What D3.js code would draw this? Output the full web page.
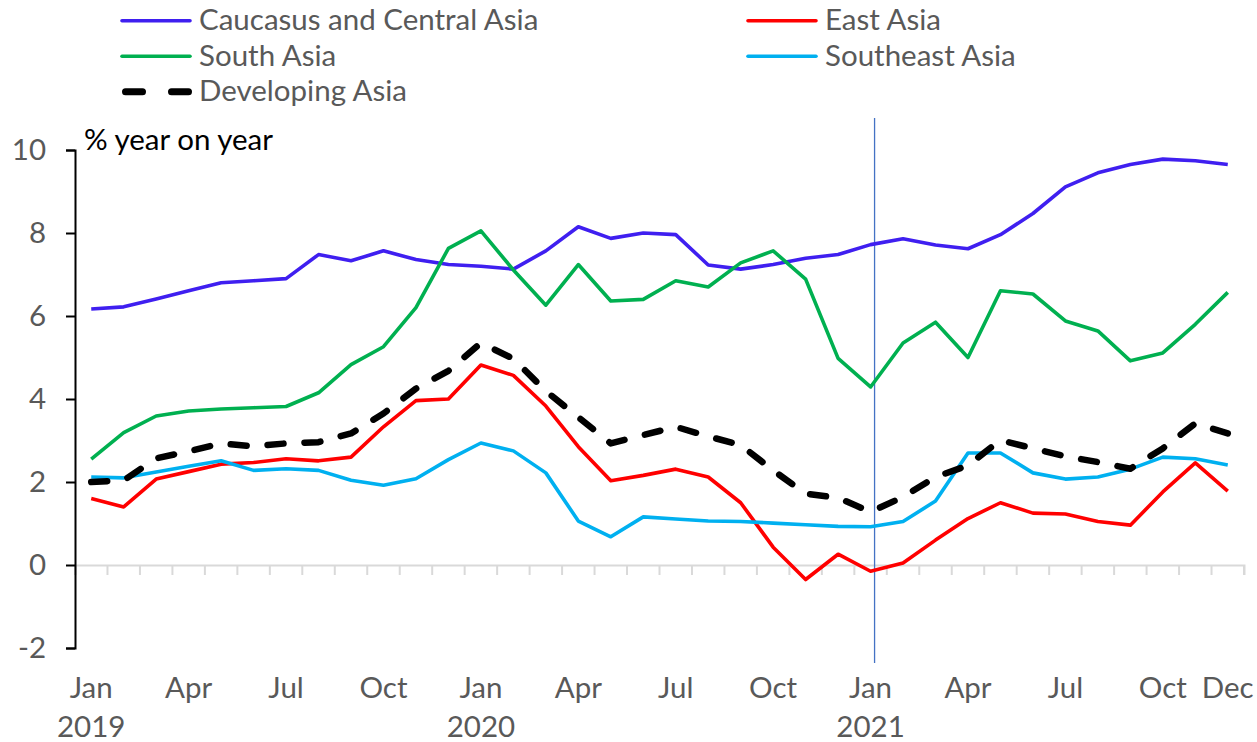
<!DOCTYPE html>
<html>
<head>
<meta charset="utf-8">
<script src="https://cdn.jsdelivr.net/npm/d3@7"></script>
<style>
	body { margin: 0; background: white; }
	svg { display: block; font-family: Lato, 'Open Sans', sans-serif; }
</style>
</head>
<body>
<div id="chart"></div>
<script>

// months shown on the x axis, Jan 2019 .. Dec 2021
var months = [];
['2019', '2020', '2021'].forEach(function(y) {
	['Jan', 'Feb', 'Mar', 'Apr', 'May', 'Jun', 'Jul', 'Aug', 'Sep', 'Oct', 'Nov', 'Dec'].forEach(function(m) {
		months.push(m + ' ' + y);
	});
});

var tickMonths = ['Jan 2019', 'Apr 2019', 'Jul 2019', 'Oct 2019', 'Jan 2020', 'Apr 2020', 'Jul 2020', 'Oct 2020',
	'Jan 2021', 'Apr 2021', 'Jul 2021', 'Oct 2021', 'Dec 2021'];
var yearLabels = ['Jan 2019', 'Jan 2020', 'Jan 2021'];
var yTicks = [-2, 0, 2, 4, 6, 8, 10];

var caucasus = [6.17, 6.22, 6.41, 6.61, 6.80, 6.85, 6.90, 7.48, 7.33, 7.57, 7.36, 7.24,
	7.20, 7.13, 7.57, 8.15, 7.87, 8.00, 7.96, 7.23, 7.13, 7.24, 7.39, 7.48,
	7.72, 7.86, 7.71, 7.62, 7.96, 8.47, 9.11, 9.45, 9.65, 9.78, 9.74, 9.65];

var eastAsia = [1.60, 1.40, 2.07, 2.25, 2.43, 2.47, 2.56, 2.51, 2.60, 3.33, 3.96, 4.00,
	4.82, 4.57, 3.83, 2.85, 2.03, 2.16, 2.31, 2.12, 1.50, 0.43, -0.35, 0.26,
	-0.15, 0.05, 0.60, 1.12, 1.50, 1.25, 1.23, 1.05, 0.96, 1.76, 2.46, 1.78];

var southAsia = [2.55, 3.19, 3.59, 3.71, 3.76, 3.79, 3.82, 4.15, 4.83, 5.26, 6.20, 7.63,
	8.05, 7.11, 6.26, 7.24, 6.36, 6.40, 6.85, 6.70, 7.28, 7.57, 6.89, 4.98,
	4.29, 5.35, 5.85, 5.00, 6.61, 6.53, 5.88, 5.64, 4.92, 5.11, 5.80, 6.57];

var southeastAsia = [2.12, 2.10, 2.24, 2.38, 2.51, 2.28, 2.32, 2.28, 2.04, 1.92, 2.08, 2.54,
	2.94, 2.75, 2.22, 1.06, 0.68, 1.16, 1.11, 1.06, 1.05, 1.01, 0.97, 0.93,
	0.92, 1.05, 1.54, 2.70, 2.70, 2.22, 2.07, 2.12, 2.31, 2.60, 2.56, 2.41];

var developingAsia = [2.00, 2.04, 2.57, 2.74, 2.93, 2.86, 2.93, 2.96, 3.17, 3.65, 4.25, 4.68,
	5.35, 4.97, 4.19, 3.56, 2.93, 3.13, 3.33, 3.10, 2.89, 2.28, 1.72, 1.62,
	1.28, 1.64, 2.12, 2.40, 3.01, 2.81, 2.62, 2.48, 2.32, 2.81, 3.41, 3.17];

var seriesNames = ['Caucasus and Central Asia', 'East Asia', 'South Asia', 'Southeast Asia', 'Developing Asia'];
var seriesValues = [caucasus, eastAsia, southAsia, southeastAsia, developingAsia];
var seriesColors = ['#3f1ff0', '#ff0000', '#00b050', '#00b0f0', '#000000'];

var width = 1257, height = 742;
var textGrey = '#595959';
var fontSize = '29.5px';

var svg = d3.select('#chart').append('svg')
	.attr('width', width)
	.attr('height', height);

var x = d3.scaleBand()
	.domain(months)
	.range([75, 1244]);

var y = d3.scaleLinear()
	.domain([-2, 10])
	.range([648, 150]);

var cx = function(m) { return x(m) + x.bandwidth() / 2; };

// zero line with the category ticks hanging from it
svg.append('g')
	.attr('transform', 'translate(0,' + y(0) + ')')
	.call(d3.axisBottom(x).tickSize(10).tickFormat(''))
	.call(function(g) {
		g.select('.domain').attr('stroke', '#d9d9d9').attr('stroke-width', 2);
		g.selectAll('.tick line').attr('stroke', '#d9d9d9').attr('stroke-width', 2)
			.attr('transform', 'translate(' + (-x.bandwidth() / 2) + ',0)');
	});

// last boundary tick on the right edge
svg.append('line')
	.attr('x1', x.range()[1]).attr('x2', x.range()[1])
	.attr('y1', y(0)).attr('y2', y(0) + 10)
	.attr('stroke', '#d9d9d9').attr('stroke-width', 2);

// y axis
svg.append('g')
	.attr('transform', 'translate(' + x.range()[0] + ',0)')
	.call(d3.axisLeft(y).tickValues(yTicks).tickSize(9).tickPadding(20)
		.tickFormat(function(d) { return String(d); }))
	.call(function(g) {
		g.select('.domain').attr('stroke', 'black').attr('stroke-width', 2);
		g.selectAll('.tick line').attr('stroke', 'black').attr('stroke-width', 2);
		g.selectAll('.tick text')
			.attr('fill', textGrey)
			.attr('font-size', fontSize)
			.attr('font-family', 'Lato, sans-serif');
	});

// month labels
svg.selectAll('.month').data(tickMonths).enter().append('text')
	.attr('class', 'month')
	.attr('x', function(d) { return cx(d); })
	.attr('y', 698)
	.attr('text-anchor', 'middle')
	.attr('font-size', fontSize)
	.attr('fill', textGrey)
	.text(function(d) { return d.split(' ')[0]; });

svg.selectAll('.year').data(yearLabels).enter().append('text')
	.attr('class', 'year')
	.attr('x', function(d) { return cx(d); })
	.attr('y', 737)
	.attr('text-anchor', 'middle')
	.attr('font-size', fontSize)
	.attr('fill', textGrey)
	.text(function(d) { return d.split(' ')[1]; });

// vertical marker at Jan 2021
svg.append('line')
	.attr('x1', cx('Jan 2021') + 4).attr('x2', cx('Jan 2021') + 4)
	.attr('y1', y(10) - 32).attr('y2', y(-2) + 15)
	.attr('stroke', '#4472c4')
	.attr('stroke-width', 1.3);

// series
var line = d3.line()
	.x(function(d, i) { return cx(months[i]); })
	.y(function(d) { return y(d); });

svg.selectAll('.series').data(seriesValues).enter().append('path')
	.attr('class', 'series')
	.attr('fill', 'none')
	.attr('stroke', function(d, i) { return seriesColors[i]; })
	.attr('stroke-width', function(d, i) { return i == 4 ? 6.5 : 3.6; })
	.attr('stroke-dasharray', function(d, i) { return i == 4 ? '16,21' : null; })
	.attr('stroke-linecap', function(d, i) { return i == 4 ? 'round' : 'butt'; })
	.attr('stroke-linejoin', 'round')
	.attr('d', line);

svg.append('text')
	.attr('x', 84)
	.attr('y', 150)
	.attr('font-size', fontSize)
	.attr('fill', 'black')
	.text('% year on year');

// legend, two columns
var legend = svg.selectAll('.legend').data(seriesNames).enter().append('g')
	.attr('class', 'legend')
	.attr('transform', function(d, i) { return 'translate(' + (i % 2 ? 748 : 122) + ',' + (20.7 + 35.5 * Math.floor(i / 2)) + ')'; });

legend.append('line')
	.attr('x1', function(d, i) { return i == 4 ? 3.5 : 0; })
	.attr('x2', 68)
	.attr('stroke', function(d, i) { return seriesColors[i]; })
	.attr('stroke-width', function(d, i) { return i == 4 ? 7 : 3.6; })
	.attr('stroke-dasharray', function(d, i) { return i == 4 ? '17,29' : null; })
	.attr('stroke-linecap', 'round');

legend.append('text')
	.attr('x', 77)
	.attr('y', 9.5)
	.attr('font-size', fontSize)
	.attr('fill', textGrey)
	.text(function(d) { return d; });

</script>
</body>
</html>
